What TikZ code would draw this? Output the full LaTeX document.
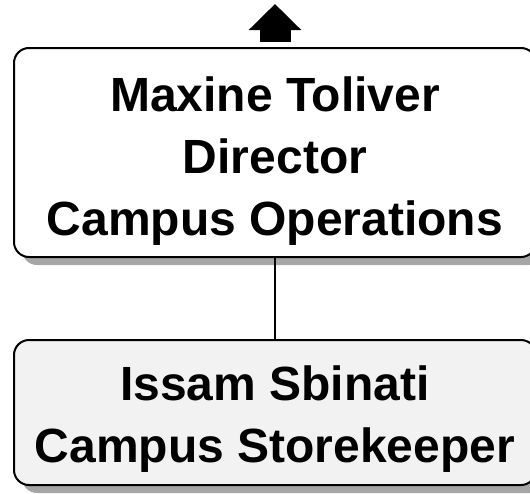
\documentclass[tikz,border=0pt]{standalone}
\usepackage{fontspec}
\setmainfont{Liberation Sans}
\usetikzlibrary{positioning,shadows,arrows.meta}

\begin{document}
\begin{tikzpicture}[x=1pt,y=1pt,
    person/.style={draw,line width=2pt,rounded corners=15pt,minimum width=522pt,
      align=center,font=\fontsize{48}{62}\selectfont\bfseries,
      drop shadow={shadow xshift=8pt,shadow yshift=-8pt,fill=black!35,opacity=1}}]
  \useasboundingbox (0,0) rectangle (530,-493);

  \node[person,fill=white,minimum height=209pt] (toliver) at (275,-152.5)
    {\rule{0pt}{51pt}Maxine Toliver\\Director\\Campus Operations};
  \node[person,fill=black!5,minimum height=145pt,below=81pt of toliver] (sbinati)
    {\rule{0pt}{47pt}Issam Sbinati\\Campus Storekeeper};

  \coordinate (up) at (275,-4);
  \draw[line width=31pt,-{Triangle[width=51pt,length=26pt]}]
    ([yshift=5pt]toliver.north) -- (up);
  \draw[line width=1.5pt] (toliver) -- (sbinati);
\end{tikzpicture}
\end{document}
